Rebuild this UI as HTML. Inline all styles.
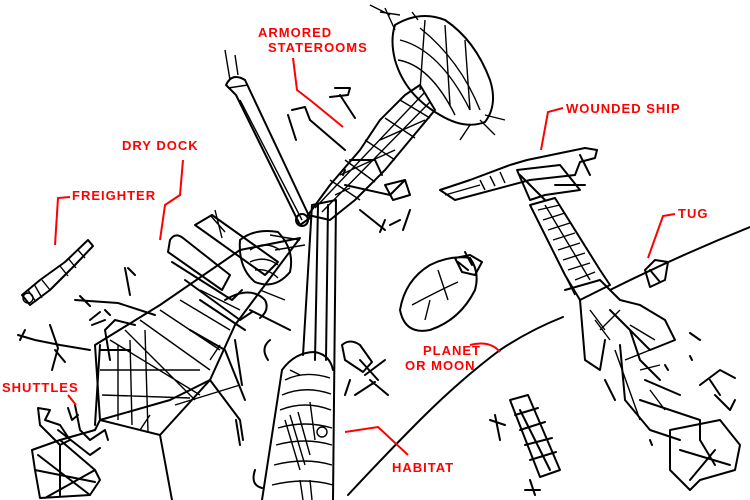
<!DOCTYPE html>
<html><head><style>
html,body{margin:0;padding:0;background:#fff;width:750px;height:500px;overflow:hidden}
svg{display:block}
.k{fill:none;stroke:#000;stroke-width:2;stroke-linejoin:round;stroke-linecap:round}
.t{fill:none;stroke:#000;stroke-width:1.4}
.r{fill:none;stroke:#f00;stroke-width:2}
text{font-family:"Liberation Sans",sans-serif;font-size:13px;fill:#f00;font-weight:bold;letter-spacing:1px}
</style></head><body>
<svg width="750" height="500" viewBox="0 0 750 500">
<rect width="750" height="500" fill="#fff"/>
<!-- planet arc -->
<path class="k" d="M348 495 Q390 450 420 420 Q460 380 500 350 Q530 330 563 317 M610 290 Q680 255 750 227" stroke-width="1.5"/>
<!-- long diagonal arm -->
<path class="k" d="M226 85 Q232 72 245 80 L310 218 L300 225 L236 95 Z"/>
<path class="t" d="M240 100 L302 220 M225 50 L230 80 M235 55 L238 75 M228 88 L248 85"/>
<circle class="k" cx="302" cy="220" r="6"/>
<!-- habitat tube -->
<path class="k" d="M312 205 L336 200 L333 500 M312 205 L303 355"/>
<path class="k" d="M318 205 L315 360 M328 205 L326 360"/>
<path class="k" d="M282 370 Q295 352 315 352 Q330 355 333 370 M282 370 L262 500"/>
<path class="t" d="M285 380 Q305 370 330 378 M282 395 Q305 385 331 394 M280 410 Q305 400 331 410 M278 428 Q305 420 332 428 M276 445 Q305 437 332 445 M274 465 Q305 457 332 465 M272 485 Q305 477 333 485"/>
<path class="t" d="M285 420 L300 470 M290 415 L305 465 M298 412 L310 455 M310 402 L315 440"/>
<path class="t" d="M300 480 L303 500 M310 480 L312 500 M290 370 L300 375"/>
<circle class="t" cx="322" cy="432" r="5"/>
<path class="k" d="M255 470 Q250 485 262 488 M270 340 Q260 348 268 360"/>
<!-- staterooms truss -->
<path class="k" d="M308 215 L330 185 L360 150 L380 120 L405 95 L420 85 L435 110 L410 140 L385 170 L355 200 L330 220 Z"/>
<path class="t" d="M315 208 L425 92 M322 212 L430 102 M330 180 L360 200 M345 160 L375 182 M365 140 L395 160 M385 118 L415 138 M400 100 L430 118 M340 175 L395 150 M380 140 L425 120 M335 195 L350 188"/>
<path class="k" d="M350 160 L375 160 L382 175 M345 185 L390 195 L405 180 M360 210 L385 230 M390 225 L400 220"/>
<path class="k" d="M292 110 L305 107 L310 120 L345 150 M288 115 L296 140 M335 88 L350 88 L348 95 L330 97 M340 95 L355 118"/>
<path class="k" d="M385 185 L405 180 L410 195 L393 200 Z M385 220 L380 232 M410 210 L403 230"/>
<!-- globe -->
<path class="k" d="M395 25 Q420 10 445 20 Q475 40 490 80 Q498 105 485 122 Q465 130 440 115 Q405 95 395 60 Q390 40 395 25 Z"/>
<path class="t" d="M400 40 Q440 50 470 110 M398 60 Q430 65 455 115 M420 28 Q460 60 480 110 M425 20 L420 90 M445 25 L450 105 M465 40 L470 110 M385 8 L395 30 M370 5 L390 15 M380 12 L400 15 M480 120 L495 135 M470 125 L460 140 M485 115 L505 120 M412 12 L418 20"/>
<!-- dry dock lattice -->
<path class="k" d="M95 345 L160 305 L240 250 L300 238 L235 325 L210 380 L170 400 L100 420 Z"/>
<path class="k" d="M100 420 L160 435 L210 380 M160 435 L172 500 M210 380 L240 420 L243 440 M100 420 L95 430 L60 440 M100 345 L95 425"/>
<path class="t" d="M110 340 L200 395 M125 330 L195 400 M140 320 L210 370 M160 310 L220 350 M180 300 L230 330 M200 290 L240 310 M100 370 L200 370 M102 395 L190 398 M118 345 L118 420 M130 340 L132 425 M145 330 L148 432 M175 405 L240 385 M210 360 L220 345 M140 430 L150 415"/>
<path class="k" d="M110 360 L105 330 L115 320 L135 325 M100 350 L130 350"/>
<path class="k" d="M170 240 Q175 232 183 238 L230 275 L222 290 L168 252 Z M172 262 L232 300 L242 290 M185 280 L240 320 L252 312 M200 300 L245 330 M195 225 L265 275 L278 262 L212 215 Z"/>
<path class="k" d="M240 240 Q255 228 278 232 Q295 250 290 272 Q275 290 255 282 Q238 268 240 240 Z M225 300 Q250 285 265 300 Q270 310 260 318 M250 310 L290 330"/>
<path class="t" d="M250 250 Q265 240 280 250 M250 262 Q265 255 278 265 M255 270 Q268 268 278 278 M210 215 L225 232 M215 210 L222 238 M270 235 L300 240 M275 250 L305 245 M260 290 L285 300"/>
<path class="k" d="M75 300 L118 303 L155 315 M80 296 L90 306 M125 268 L130 295 M128 268 L135 275 M90 320 L100 312 M92 325 L105 320 M105 310 L110 315"/>
<path class="k" d="M18 335 L35 340 L60 345 L90 350 M50 325 L58 348 L52 370 M55 350 L65 362 M20 340 L25 330"/>
<path class="k" d="M190 330 L225 350 L245 400 M235 340 L242 385"/>
<!-- freighter -->
<path class="k" d="M22 295 L40 280 L65 262 L88 240 L93 246 L75 265 L50 290 L30 305 Z"/>
<path class="t" d="M28 290 L36 302 M34 284 L42 298 M42 280 L50 290 M60 266 L68 276 M68 258 L76 268 M78 250 L85 258"/>
<circle class="t" cx="28" cy="298" r="5"/>
<!-- shuttles -->
<path class="k" d="M38 408 L50 410 L45 420 L60 425 L70 440 L60 445 L40 425 Z M58 430 L90 455 L100 448 M68 408 L72 420 L78 415"/>
<path class="k" d="M32 450 L60 440 L95 470 L100 480 L90 495 L40 498 L35 470 Z M38 455 L90 495 M95 470 L45 498 M60 445 L60 495 M35 470 L95 482"/>
<path class="k" d="M75 405 L80 430 L90 440 L105 430 L108 440"/>
<!-- near habitat right -->
<path class="k" d="M342 345 Q350 338 360 345 L372 362 L363 372 L345 360 Z M360 360 L378 380 M365 375 L385 360 M375 382 L355 395 M370 380 L388 395 M350 380 L345 395"/>
<path class="k" d="M236 420 L240 445 M345 170 L343 175"/>
<!-- rock -->
<path class="k" d="M400 310 Q405 280 430 265 Q450 255 470 258 Q480 272 475 290 Q460 320 430 330 Q405 335 400 310 Z"/>
<path class="t" d="M412 305 Q440 290 458 282 M438 270 L448 300 M430 300 L425 320"/>
<path class="k" d="M455 258 L470 255 L482 262 L475 275 L462 272 Z M458 262 L468 270 M465 252 L472 265"/>
<!-- wounded ship -->
<path class="k" d="M440 190 L470 180 L510 165 L527 160 L585 148 L597 150 L595 158 L580 162 L575 175 L530 180 L455 200 Z"/>
<path class="t" d="M445 195 L480 185 M480 180 L485 190 M490 176 L495 186 M500 172 L505 183"/>
<path class="k" d="M517 170 L560 165 L580 190 L545 195 L530 200 Z M520 175 L545 200 M580 155 L590 175 M555 185 L585 185"/>
<path class="k" d="M530 205 L555 198 L600 270 L610 285 L580 300 L565 275 Z"/>
<path class="t" d="M538 210 L560 205 M543 220 L565 213 M548 230 L570 223 M553 240 L575 233 M558 250 L580 243 M563 260 L585 253 M568 270 L590 263 M575 280 L595 272 M535 215 L575 295 M545 205 L590 280"/>
<path class="k" d="M565 290 L600 280 L620 300 L640 305 L665 320 L675 340 L650 350 L630 330 M580 300 L585 360 L600 370 L605 340 M610 310 L630 330 L640 360 L660 380 M620 345 L625 400 L650 430 L680 440 M605 380 L615 400 M640 400 L700 420 L700 440 M645 380 L680 395"/>
<path class="t" d="M590 310 L605 330 M595 320 L610 340 M630 325 L655 340 M600 330 L620 310 M625 360 L650 350 M640 370 L660 365 M615 350 L640 420 M650 390 L665 410"/>
<path class="k" d="M670 430 L720 420 L740 445 L735 470 L700 480 L690 490 L670 470 Z M680 450 L730 465 M690 480 L715 450 M700 440 L715 465 M715 395 L730 410 L735 400"/>
<path class="k" d="M700 385 L720 370 L735 378 M710 380 L720 395 M645 270 L655 260 L668 262 L665 280 L650 287 Z M650 270 L660 282"/>
<path class="k" d="M690 333 L700 340 M690 356 L692 360 M665 365 L668 370 M650 440 L652 445"/>
<path class="k" d="M510 400 L528 395 L560 470 L540 477 Z M515 415 L538 408 M520 430 L545 422 M525 445 L552 438 M530 460 L556 452 M520 410 L550 470"/>
<path class="k" d="M490 420 L505 425 M495 415 L500 440 M530 480 L535 495 M525 490 L540 490"/>
<!-- red labels -->
<text x="258" y="37">ARMORED</text>
<text x="268" y="52" font-size="12">STATEROOMS</text>
<path class="r" d="M293 58 L297 90 L310 100 L343 127"/>
<text x="122" y="150">DRY DOCK</text>
<path class="r" d="M183 160 L180 195 L165 205 L160 240"/>
<text x="72" y="200">FREIGHTER</text>
<path class="r" d="M70 197 L58 198 L55 245"/>
<text x="566" y="113">WOUNDED SHIP</text>
<path class="r" d="M563 108 L548 112 L541 150"/>
<text x="678" y="218">TUG</text>
<path class="r" d="M675 214 L663 216 L648 258"/>
<text x="423" y="355">PLANET</text>
<text x="405" y="370">OR MOON</text>
<path class="r" d="M470 345 Q490 340 500 352"/>
<text x="2" y="392" font-size="12">SHUTTLES</text>
<path class="r" d="M68 395 L76 405"/>
<text x="392" y="472">HABITAT</text>
<path class="r" d="M345 432 L378 427 L408 455"/>
</svg>
</body></html>
